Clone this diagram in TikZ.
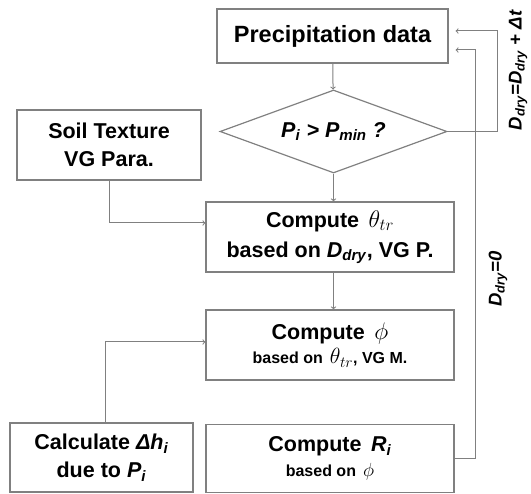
\RequirePackage{fix-cm}
\documentclass[tikz,border=0pt]{standalone}
\usepackage{fontspec}
\setmainfont{Liberation Sans}
\usetikzlibrary{shapes.geometric}
\newcommand{\bi}[1]{\textbf{\textit{#1}}}
\newcommand{\bisub}[2]{\bi{#1}\textsubscript{\bi{#2}}}

\begin{document}
\begin{tikzpicture}[x=1pt,y=-1pt,
  box/.style={rectangle,draw=gray,line width=1.2pt,inner sep=0pt,align=center},
  big/.style={font=\fontsize{21.5}{28}\selectfont\bfseries},
  small/.style={font=\fontsize{16}{24.5}\selectfont\bfseries},
  link/.style={draw=gray,line width=1pt,->},
  lbl/.style={rotate=90,inner sep=0pt,font=\fontsize{18.5}{20}\selectfont\bfseries}]
  \useasboundingbox (0,0) rectangle (531,494);

      \node[box,minimum width=231,minimum height=54,font=\fontsize{23.5}{26}\selectfont\bfseries] (prec) at (332.5,36){Precipitation data};
      \node[diamond,draw=gray,line width=1.2pt,aspect=2.73,minimum width=227,minimum height=83,inner sep=0pt,big] (cond) at (333.5,131.5){\bisub{P}{i} \bi{>} \bisub{P}{min} \bi{?}};
      \node[box,minimum width=184,minimum height=70,big] (soil) at (109,145){Soil Texture\\VG Para.};
      \node[box,minimum width=248,minimum height=70,big] (theta) at (330,237){Compute \,{\fontsize{24}{28}\selectfont$\theta_{tr}$}\\[2pt]based on \bisub{D}{dry}, VG P.};
      \node[box,minimum width=248,minimum height=70,small] (phi) at (330,345){{\fontsize{21.5}{28}\selectfont Compute \,{\fontsize{24}{28}\selectfont$\phi$}}\\based on \,{\fontsize{22}{28}\selectfont$\theta_{tr}$}, VG M.};
      \node[box,minimum width=248,minimum height=68,small] (rcomp) at (330,458.5){{\fontsize{21.5}{28}\selectfont Compute \,\bisub{R}{i}}\\based on \,{\fontsize{19}{24}\selectfont$\phi$}};
      \node[box,minimum width=183,minimum height=69,big] (calc) at (101.5,457.5){Calculate \bisub{Δh}{i}\\due to \bisub{P}{i}};

      \node[lbl] (dt) at (518,70){\bisub{D}{dry}\bi{=}\bisub{D}{dry} \bi{+ Δt}};
      \node[lbl] (d0) at (498,279){\bisub{D}{dry}\bi{=0}};

      \draw[link] (prec) -- (cond);
      \draw[link] (cond) -- (cond.south |- theta.north);
      \draw[link] (cond.south |- theta.south) -- (cond.south |- phi.north);
      \draw[link] (soil.south) |- ([yshift=14pt]theta.west);
      \draw[link] ([xshift=3.5pt]calc.north) |- ([yshift=3pt]phi.west);
      \draw[link] (cond.east) -- ++(50,0) |- ([shift={(7pt,5pt)}]prec.east);
      \draw[link] (rcomp.east) -- ++(21,0) |- ([shift={(7pt,-14pt)}]prec.east);
    \end{tikzpicture}
\end{document}
